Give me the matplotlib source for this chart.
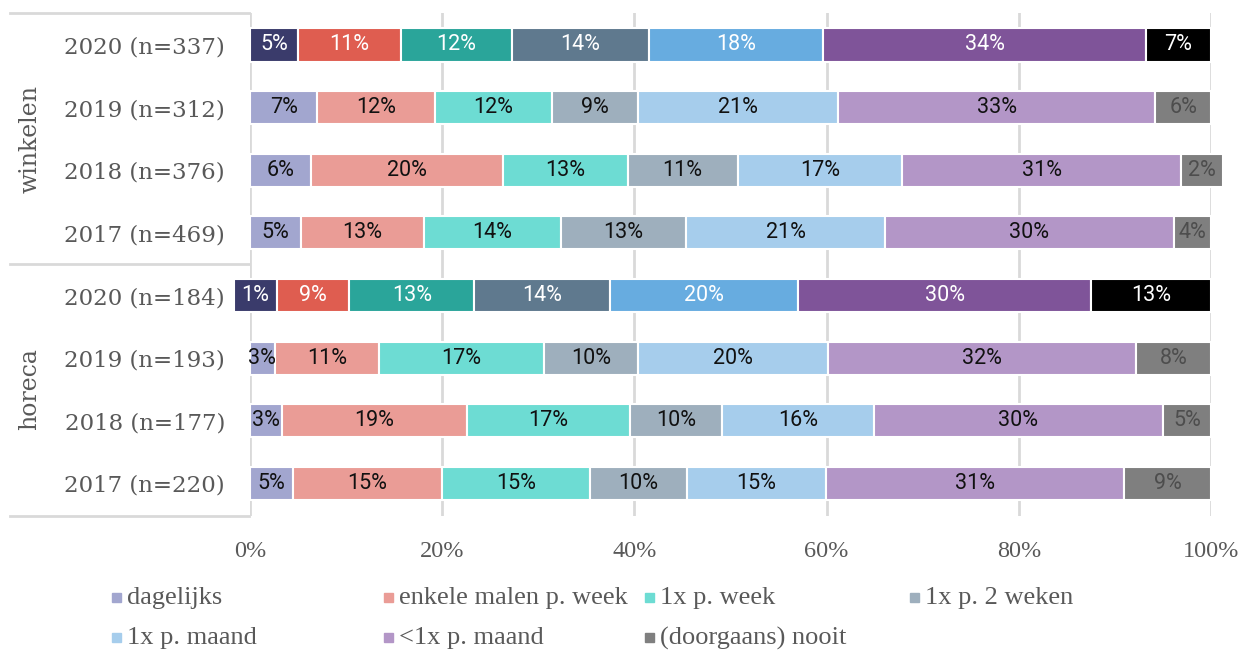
import matplotlib.pyplot as plt
from matplotlib.lines import Line2D
from matplotlib.patches import Rectangle

# Data

categories = ['dagelijks', 'enkele malen p. week', '1x p. week', '1x p. 2 weken',
              '1x p. maand', '<1x p. maand', '(doorgaans) nooit']
row_labels = ['2020 (n=337)', '2019 (n=312)', '2018 (n=376)', '2017 (n=469)',
              '2020 (n=184)', '2019 (n=193)', '2018 (n=177)', '2017 (n=220)']
groups = ['winkelen', 'horeca']

# percentages printed in the segments
shown_pct = [
    [5, 11, 12, 14, 18, 34, 7],
    [7, 12, 12, 9, 21, 33, 6],
    [6, 20, 13, 11, 17, 31, 2],
    [5, 13, 14, 13, 21, 30, 4],
    [1, 9, 13, 14, 20, 30, 13],
    [3, 11, 17, 10, 20, 32, 8],
    [3, 19, 17, 10, 16, 30, 5],
    [5, 15, 15, 10, 15, 31, 9],
]
# segment lengths as drawn in the picture
bar_width = [
    [5.0, 10.7, 11.55, 14.25, 18.15, 33.55, 6.8],
    [7.0, 12.2, 12.2, 9.0, 20.8, 33.0, 5.8],
    [6.36, 19.94, 13.0, 11.44, 17.1, 29.05, 4.4],
    [5.3, 12.8, 14.25, 13.05, 20.67, 30.06, 3.87],
    [4.44, 7.52, 13.05, 14.12, 19.58, 30.45, 12.5],
    [2.57, 10.86, 17.12, 9.85, 19.7, 32.1, 7.8],
    [3.35, 19.2, 16.98, 9.57, 15.86, 30.01, 5.03],
    [4.5, 15.47, 15.46, 10.01, 14.54, 30.96, 9.06],
]
bar_start = [0, 0, 0, 0, -1.66, 0, 0, 0]

# Colours

dark = ['#3a3b6b', '#df5d50', '#2aa59a', '#5f798e', '#67ace0', '#7f5499', '#000000']
light = ['#a2a6cf', '#ea9c96', '#6ddcd3', '#9eafbd', '#a6cdec', '#b396c7', '#7f7f7f']
grey_txt = '#595959'
line_col = '#d9d9d9'

W, H = 1246, 653
fig = plt.figure(figsize=(W / 100, H / 100), dpi=100)
ax = fig.add_axes([250 / W, 1 - 516 / H, 961 / W, 503 / H])

for i, row in enumerate(row_labels):
    is2020 = row.startswith('2020')
    left = bar_start[i]
    for j, w in enumerate(bar_width[i]):
        col = dark[j] if is2020 else light[j]
        ax.barh(i, w, left=left, height=0.53, color=col, edgecolor='white',
                linewidth=1.5, clip_on=False, zorder=3)
        if is2020:
            tc = 'white'
        elif j == len(categories) - 1:
            tc = '#4d4d4d'
        else:
            tc = '#111111'
        ax.text(left + w / 2, i, f'{shown_pct[i][j]}%', ha='center', va='center',
                color=tc, fontsize=15.5, family='Roboto', zorder=4)
        left += w

ax.set_xlim(0, 100)
ax.set_ylim(7.52, -0.51)
ax.set_xticks(range(0, 101, 20))
ax.set_xticklabels([f'{t}%' for t in range(0, 101, 20)])
ax.set_yticks(range(len(row_labels)))
ax.set_yticklabels(row_labels)
ax.xaxis.grid(True, color=line_col, linewidth=2)
ax.set_axisbelow(True)
for s in ax.spines.values():
    s.set_visible(False)
ax.tick_params(axis='x', length=0, pad=18, labelsize=17.5, labelcolor=grey_txt)
ax.tick_params(axis='y', length=0, pad=18, labelsize=16.5, labelcolor=grey_txt)
for t in ax.get_xticklabels():
    t.set_family('Liberation Serif')
for t in ax.get_yticklabels():
    t.set_family('DejaVu Serif')

# left frame lines
for y in [13, 264, 516]:
    fig.add_artist(Line2D([10 / W, 249 / W], [1 - y / H, 1 - y / H], color=line_col, lw=2))

# group labels
fig.text(30 / W, 1 - 139 / H, groups[0], rotation=90, ha='center', va='center',
         fontsize=17, color=grey_txt, family='DejaVu Serif')
fig.text(30 / W, 1 - 389 / H, groups[1], rotation=90, ha='center', va='center',
         fontsize=17, color=grey_txt, family='DejaVu Serif')

# legend
col_x = [117, 389, 650, 915]
row_y = [598, 638]
for k, name in enumerate(categories):
    x = col_x[k % 4]
    y = row_y[k // 4]
    fig.add_artist(Rectangle(((x - 5) / W, 1 - (y + 4) / H), 9 / W, 9 / H,
                             transform=fig.transFigure, color=light[k]))
    fig.text((x + 10) / W, 1 - y / H, name, ha='left', va='center', fontsize=19,
             color=grey_txt, family='Liberation Serif')

plt.savefig('out.png', dpi=100)
